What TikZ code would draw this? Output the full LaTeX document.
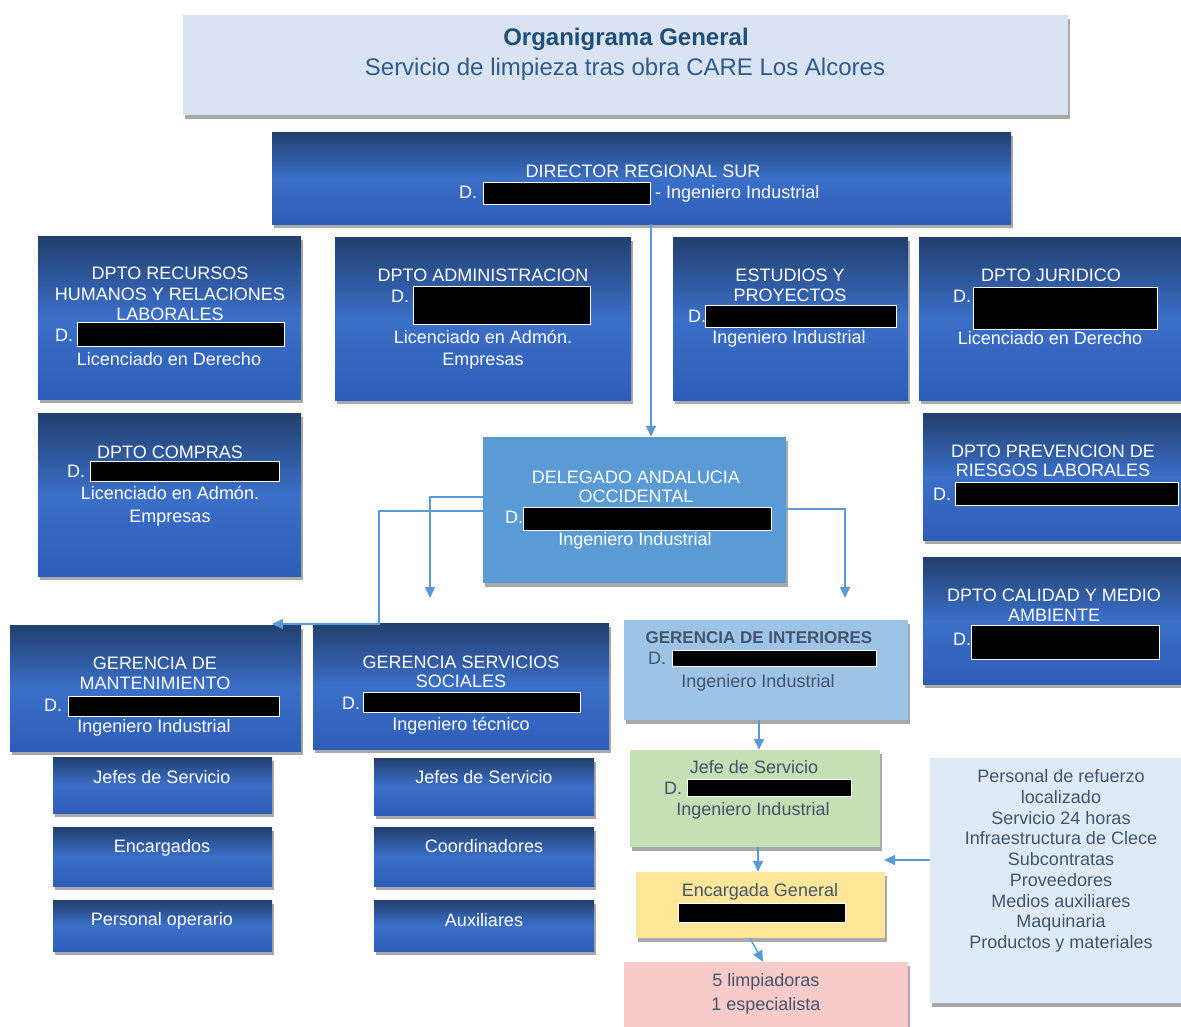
\documentclass[tikz,border=0pt]{standalone}
\usepackage{fontspec}
\setmainfont{Liberation Sans}
\usetikzlibrary{fit,shadows,arrows.meta}
\definecolor{arrowc}{HTML}{5B9BD5}
\definecolor{navtop}{HTML}{223F6E}
\definecolor{navmid}{HTML}{3B6FC8}
\definecolor{navbot}{HTML}{2E5DB8}
\definecolor{titlefill}{HTML}{DAE3F3}
\definecolor{titlec}{HTML}{1F4E79}
\definecolor{subc}{HTML}{2E5B8C}
\definecolor{delfill}{HTML}{5B9BD5}
\definecolor{intfill}{HTML}{9DC3E6}
\definecolor{jefefill}{HTML}{C5E0B4}
\definecolor{encfill}{HTML}{FFE699}
\definecolor{limfill}{HTML}{F9CACA}
\definecolor{reffill}{HTML}{DEEBF7}
\definecolor{pastxt}{HTML}{44546A}
\tikzset{
  shd/.style={drop shadow={shadow xshift=1.5pt,shadow yshift=-3.5pt,opacity=.45,fill=black!75}},
  bx/.style={inner sep=0pt, shd},
  dark/.style={bx, top color=navtop, bottom color=navbot, middle color=navmid},
  titlebox/.style={bx, fill=titlefill},
  delbox/.style={bx, fill=delfill},
  intbox/.style={bx, fill=intfill},
  jefebox/.style={bx, fill=jefefill},
  encbox/.style={bx, fill=encfill},
  limbox/.style={bx, fill=limfill},
  refbox/.style={bx, fill=reffill},
  wt/.style={text=white, font=\fontsize{18}{21}\selectfont, inner sep=0pt, text height=13pt, text depth=0pt},
  pt/.style={text=pastxt, font=\fontsize{18}{21}\selectfont, inner sep=0pt, text height=13pt, text depth=0pt},
  ptb/.style={text=pastxt, font=\fontsize{17}{21}\selectfont\bfseries, inner sep=0pt, text height=13pt, text depth=0pt},
  ptm/.style={text=pastxt, font=\fontsize{18}{20.75}\selectfont, inner sep=0pt, align=center},
  redact/.style={fill=black, draw=white, line width=0.6pt},
  arr/.style={draw=arrowc, line width=1.5pt, -{Triangle[length=11pt,width=10pt]}}
}
\newcommand{\putline}[5][wt]{\node[#1] (#2) at (#3,#4) {#5};}
\newcommand{\putD}[4][wt]{\node[#1,anchor=west] (#2) at (#3,#4) {D.};}
\newcommand{\redbox}[4]{\path[redact] (#1,#2) rectangle (#3,#4);}
\begin{document}
\begin{tikzpicture}[x=1pt,y=-1pt]
\useasboundingbox (0,0) rectangle (1181,1026);
% ---------- boxes ----------
\node[titlebox, fit={(183,15) (1068,115)}] (title) {};
\node[dark, fit={(272,132) (1011,224)}] (dir) {};
\node[dark, fit={(38,236) (301,399)}] (rrhh) {};
\node[dark, fit={(335,237) (631,400)}] (admin) {};
\node[dark, fit={(673,237) (908,400)}] (estud) {};
\node[dark, fit={(919,237) (1181,400)}] (jur) {};
\node[dark, fit={(38,413) (301,576)}] (compras) {};
\node[delbox, fit={(483,437) (786,583)}] (del) {};
\node[dark, fit={(923,413) (1181,540)}] (prev) {};
\node[dark, fit={(923,557) (1181,684)}] (cal) {};
\node[dark, fit={(10,625) (301,751)}] (mant) {};
\node[dark, fit={(313,623) (609,749)}] (soc) {};
\node[dark, fit={(53,757) (272,813)}] (m1) {};
\node[dark, fit={(53,827) (272,886)}] (m2) {};
\node[dark, fit={(53,900) (272,951)}] (m3) {};
\node[dark, fit={(374,758) (594,815)}] (s1) {};
\node[dark, fit={(374,827) (594,886)}] (s2) {};
\node[dark, fit={(374,900) (594,951)}] (s3) {};
\node[intbox, fit={(624,620) (908,720)}] (int) {};
\node[jefebox, fit={(630,750) (880,847)}] (jefe) {};
\node[encbox, fit={(636,872) (885,938)}] (enc) {};
\node[limbox, fit={(624,962) (908,1032)}] (lim) {};
\node[refbox, fit={(930,758) (1181,1003)}] (ref) {};
% ---------- title ----------
\node[text=titlec, font=\fontsize{24}{28}\selectfont\bfseries, inner sep=0pt, text height=17pt, text depth=0pt] (titA) at (626,37) {Organigrama General};
\node[text=subc, font=\fontsize{24}{28}\selectfont, inner sep=0pt, text height=17pt, text depth=0pt] (titB) at (625,67) {Servicio de limpieza tras obra CARE Los Alcores};
% ---------- director ----------
\putline{dirA}{643}{171}{DIRECTOR REGIONAL SUR}
\putD{dirD}{459}{192}
\redbox{483}{182}{650}{204}
\node[wt,anchor=west] (dirB) at (655,192) {- Ingeniero Industrial};
% ---------- rrhh ----------
\putline{rrA}{170}{273}{DPTO RECURSOS}
\putline{rrB}{170}{294}{HUMANOS Y RELACIONES}
\putline{rrC}{170}{314}{LABORALES}
\putD{rrD}{55}{335}
\redbox{77}{322}{284}{346}
\putline{rrE}{169}{359}{Licenciado en Derecho}
% ---------- admin ----------
\putline{adA}{483}{275}{DPTO ADMINISTRACION}
\putD{adD}{391}{296}
\redbox{413}{286}{590}{324}
\putline{adB}{483}{337}{Licenciado en Admón.}
\putline{adC}{483}{359}{Empresas}
% ---------- estudios ----------
\putline{esA}{790}{275}{ESTUDIOS Y}
\putline{esB}{790}{295}{PROYECTOS}
\putD{esD}{688}{316}
\redbox{705}{305}{896}{327}
\putline{esC}{789}{337}{Ingeniero Industrial}
% ---------- juridico ----------
\putline{juA}{1051}{275}{DPTO JURIDICO}
\putD{juD}{953}{296}
\redbox{973}{287}{1157}{329}
\putline{juB}{1050}{338}{Licenciado en Derecho}
% ---------- compras ----------
\putline{coA}{170}{452}{DPTO COMPRAS}
\putD{coD}{67}{471}
\redbox{90}{461}{279}{481}
\putline{coB}{170}{493}{Licenciado en Admón.}
\putline{coC}{170}{516}{Empresas}
% ---------- delegado ----------
\putline{deA}{636}{477}{DELEGADO ANDALUCIA}
\putline{deB}{636}{496}{OCCIDENTAL}
\putD{deD}{505}{517}
\redbox{523}{507}{771}{530}
\putline{deC}{635}{539}{Ingeniero Industrial}
% ---------- prevencion ----------
\putline{prA}{1053}{451}{DPTO PREVENCION DE}
\putline{prB}{1053}{470}{RIESGOS LABORALES}
\putD{prD}{933}{494}
\redbox{955}{482}{1178}{505}
% ---------- calidad ----------
\putline{caA}{1054}{595}{DPTO CALIDAD Y MEDIO}
\putline{caB}{1054}{615}{AMBIENTE}
\putD{caD}{953}{639}
\redbox{971}{625}{1159}{659}
% ---------- mantenimiento ----------
\putline{maA}{155}{663}{GERENCIA DE}
\putline{maB}{155}{683}{MANTENIMIENTO}
\putD{maD}{44}{705}
\redbox{68}{696}{279}{716}
\putline{maC}{154}{726}{Ingeniero Industrial}
\putline{m1t}{162}{777}{Jefes de Servicio}
\putline{m2t}{162}{846}{Encargados}
\putline{m3t}{162}{919}{Personal operario}
% ---------- sociales ----------
\putline{soA}{461}{662}{GERENCIA SERVICIOS}
\putline{soB}{461}{681}{SOCIALES}
\putD{soD}{342}{703}
\redbox{363}{692}{580}{712}
\putline{soC}{461}{724}{Ingeniero técnico}
\putline{s1t}{484}{777}{Jefes de Servicio}
\putline{s2t}{484}{846}{Coordinadores}
\putline{s3t}{484}{920}{Auxiliares}
% ---------- interiores ----------
\putline[ptb]{inA}{759}{637}{GERENCIA DE INTERIORES}
\putD[pt]{inD}{648}{658}
\redbox{672}{650}{876}{666}
\putline[pt]{inB}{758}{681}{Ingeniero Industrial}
% ---------- jefe ----------
\putline[pt]{jeA}{754}{767}{Jefe de Servicio}
\putD[pt]{jeD}{664}{788}
\redbox{687}{779}{851}{796}
\putline[pt]{jeB}{753}{809}{Ingeniero Industrial}
% ---------- encargada ----------
\putline[pt]{enA}{760}{890}{Encargada General}
\redbox{678}{903}{845}{922}
% ---------- limpiadoras ----------
\putline[pt]{liA}{766}{980}{5 limpiadoras}
\putline[pt]{liB}{766}{1004}{1 especialista}
% ---------- refuerzo ----------
\node[ptm] (refT) at (1061,861) {Personal de refuerzo\\localizado\\Servicio 24 horas\\Infraestructura de Clece\\Subcontratas\\Proveedores\\Medios auxiliares\\Maquinaria\\Productos y materiales};
% ---------- connectors ----------
\coordinate (x651) at (651,0);
\coordinate (y497) at (0,497);
\coordinate (y511) at (0,511);
\coordinate (y509) at (0,509);
\coordinate (e1) at (430,598);
\coordinate (k2) at (379,624);
\coordinate (e2) at (272,624);
\coordinate (e3) at (845,598);
\coordinate (x759) at (759,0);
\coordinate (x758) at (758,0);
\coordinate (x750) at (750,0);
\coordinate (x763) at (763,0);
\coordinate (e4) at (884,860);
\draw[arr] (dir.south -| x651) -- (del.north -| x651);
\draw[arr] (del.west |- y497) -| (e1);
\draw[arr] (del.west |- y511) -| (k2) -- (e2);
\draw[arr] (del.east |- y509) -| (e3);
\draw[arr] (int.south -| x759) -- (jefe.north -| x759);
\draw[arr] (jefe.south -| x758) -- (enc.north -| x758);
\draw[arr] (enc.south -| x750) -- (lim.north -| x763);
\draw[arr] (ref.west |- e4) -- (e4);
\end{tikzpicture}
\end{document}
